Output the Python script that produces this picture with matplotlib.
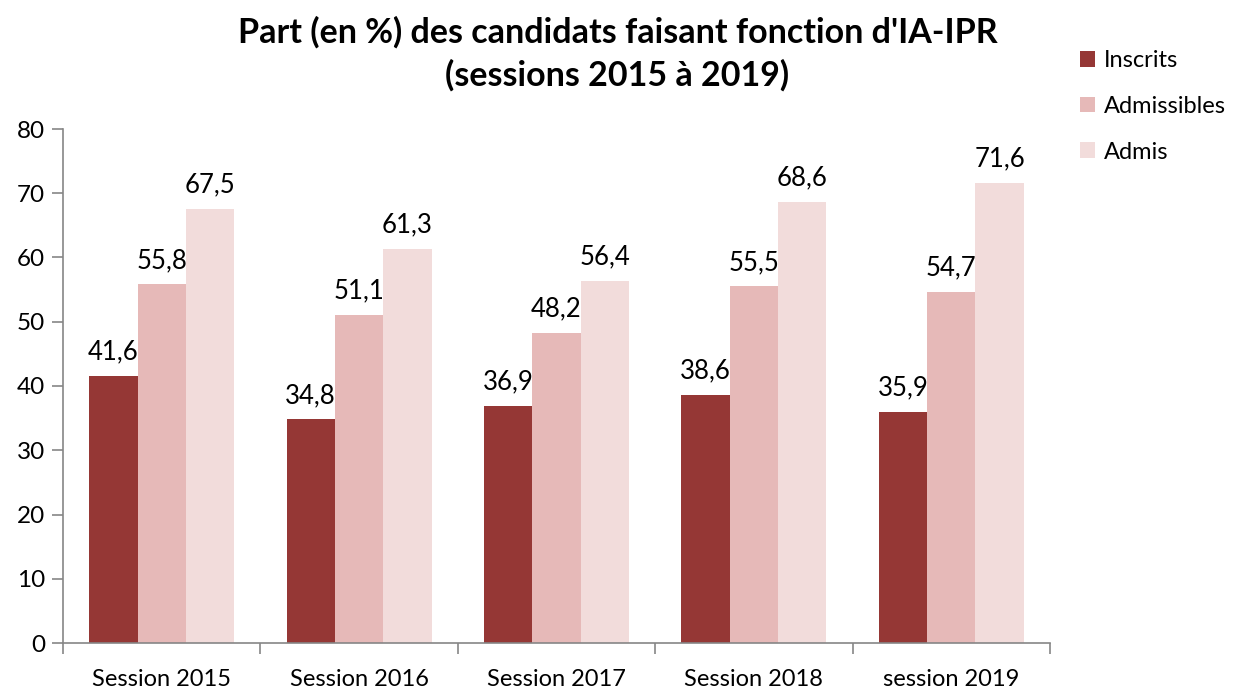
import matplotlib
matplotlib.use("Agg")
import matplotlib.pyplot as plt
import numpy as np

categories = ["Session 2015", "Session 2016", "Session 2017", "Session 2018", "session 2019"]
series_names = ["Inscrits", "Admissibles", "Admis"]
inscrits = [41.6, 34.8, 36.9, 38.6, 35.9]
admissibles = [55.8, 51.1, 48.2, 55.5, 54.7]
admis = [67.5, 61.3, 56.4, 68.6, 71.6]
colors = ["#953735", "#E6B9B8", "#F2DCDB"]
yticks = [0, 10, 20, 30, 40, 50, 60, 70, 80]

plt.rcParams['font.family'] = ['Lato', 'DejaVu Sans']

fig = plt.figure(figsize=(12.35, 6.88), dpi=100)
ax = fig.add_axes([63/1235, 45/688, (1050-63)/1235, (643-129)/688])

x = np.arange(len(categories))
w = 0.245
data = [inscrits, admissibles, admis]
for i, (vals, name, c) in enumerate(zip(data, series_names, colors)):
    bars = ax.bar(x + (i - 1) * w, vals, width=w, color=c, label=name, zorder=2)
    for b, v in zip(bars, vals):
        ax.text(b.get_x() + b.get_width() / 2, v + 1.8, f"{v:.1f}".replace(".", ","),
                ha="center", va="bottom", fontsize=18.5, color="black")

ax.set_xlim(-0.5, len(categories) - 0.5)
ax.set_ylim(0, 80)
ax.set_yticks(yticks)
ax.set_yticklabels([str(t) for t in yticks], fontsize=17.5)
ax.set_xticks(x)
ax.set_xticklabels(categories, fontsize=17)
ax.set_xticks(np.arange(len(categories) + 1) - 0.5, minor=True)
ax.tick_params(axis="x", which="major", length=0, pad=19)
ax.tick_params(axis="x", which="minor", length=8, color="#868686", width=1.2)
ax.tick_params(axis="y", length=8, color="#868686", width=1.2, pad=5)
for s in ["top", "right"]:
    ax.spines[s].set_visible(False)
for s in ["left", "bottom"]:
    ax.spines[s].set_color("#868686")
    ax.spines[s].set_linewidth(1.2)

fig.text(0.5, 1 - 54/688, "Part (en %) des candidats faisant fonction d'IA-IPR\n(sessions 2015 à 2019)",
         ha="center", va="center", fontsize=24.5, fontweight="bold", linespacing=1.4)

fig.legend(loc="upper left", bbox_to_anchor=(1080/1235, 1 - 50/688), frameon=False,
           fontsize=17, handlelength=0.65, handleheight=0.65, labelspacing=1.05,
           handletextpad=0.35, borderaxespad=0, borderpad=0)

fig.savefig("out.png", dpi=100, facecolor="white")
